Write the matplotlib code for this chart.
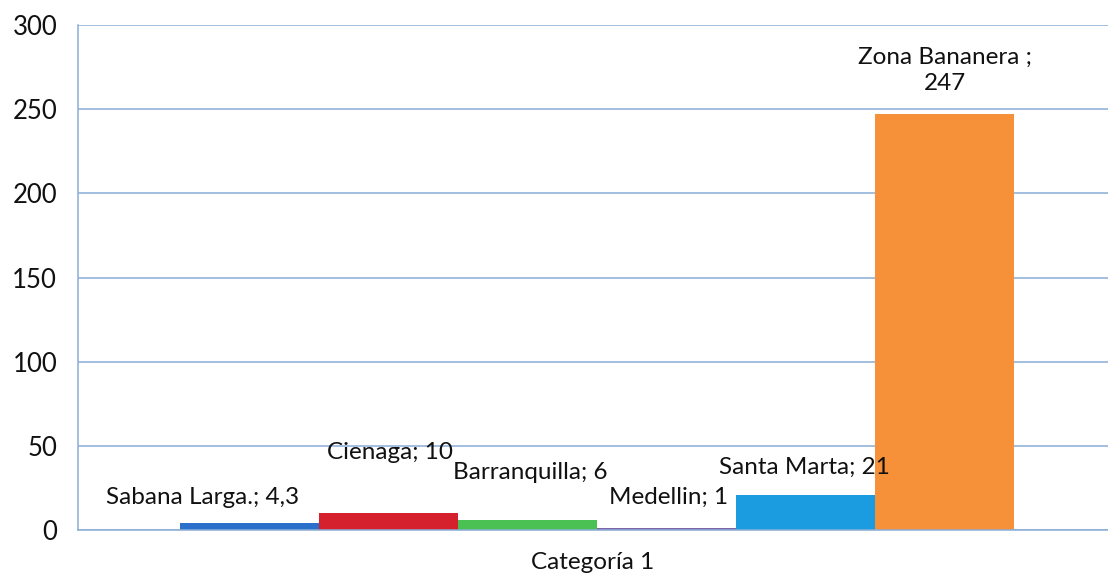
import matplotlib
matplotlib.use("Agg")
import matplotlib.pyplot as plt

plt.rcParams['font.family'] = ['Lato', 'DejaVu Sans']

categories = ["Sabana Larga.", "Cienaga", "Barranquilla", "Medellin", "Santa Marta", "Zona Bananera"]
values = [4.3, 10, 6, 1, 21, 247]
value_labels = ["4,3", "10", "6", "1", "21", "247"]
colors = ["#2b6fcc", "#d5202e", "#4cc153", "#8064a8", "#1b9be0", "#f6913a"]
group_label = "Categoría 1"
yticks = [0, 50, 100, 150, 200, 250, 300]

# label placement (data coords), mimicking manually moved Excel labels
label_pos = [(-0.379, 19.6), (-0.197, 45.8), (-0.061, 33.9), (0.073, 19.6), (0.205, 37.5), (0.342, 273)]

fig = plt.figure(figsize=(11.08, 5.75), dpi=100)
ax = fig.add_axes([78/1108, 45/575, 1 - 78/1108, 505/575])

n = len(values)
w = 0.135
center = 0.004
for i, (v, c) in enumerate(zip(values, colors)):
    x = center + (i - (n - 1) / 2) * w
    ax.bar(x, v, width=w, color=c, zorder=2)

for i, (cat, lab) in enumerate(zip(categories, value_labels)):
    x, y = label_pos[i]
    if i == n - 1:
        txt = f"{cat} ;\n{lab}"
    else:
        txt = f"{cat}; {lab}"
    ax.text(x, y, txt, ha='center', va='center', fontsize=17.5, color='#111111',
            zorder=3, linespacing=1.3)

ax.set_xlim(-0.5, 0.5)
ax.set_ylim(0, 300)
ax.set_yticks(yticks)
ax.set_xticks([0])
ax.set_xticklabels([group_label])
ax.tick_params(axis='x', length=0, pad=16, labelsize=17.5)
ax.tick_params(axis='y', length=0, pad=15, labelsize=18.5)
for lab in ax.get_yticklabels() + ax.get_xticklabels():
    lab.set_color('#111111')
ax.yaxis.grid(True, color='#8aaed6', linewidth=1.1, zorder=0)
ax.set_axisbelow(True)
for s in ['top', 'right']:
    ax.spines[s].set_visible(False)
for s in ['left', 'bottom']:
    ax.spines[s].set_color('#8aaed6')
    ax.spines[s].set_linewidth(1.1)

fig.savefig("out.png", dpi=100)
